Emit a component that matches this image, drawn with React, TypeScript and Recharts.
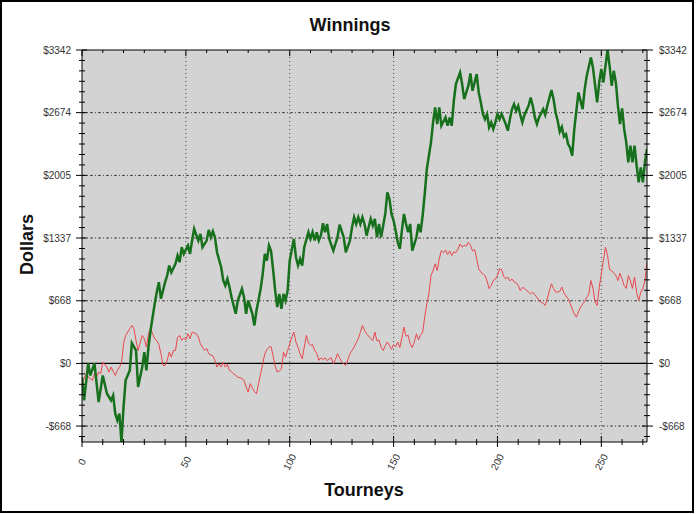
import React from 'react';
import { LineChart, Line, XAxis, YAxis, ReferenceLine, ReferenceArea } from 'recharts';

const greenTourneys = [0,1,3,4,6,8,10,12,14,15,16,17,18,19,20,21,23,24,26,27,29,30,31,32,33,35,36,37,38,40,41,42,43,45,46,47,48,49,51,52,53,54,56,57,58,60,61,62,63,64,65,67,68,69,70,71,72,74,75,77,78,79,80,82,83,84,85,86,87,88,89,90,91,92,93,94,95,96,97,98,99,100,102,103,104,105,106,107,109,110,111,112,113,114,115,116,117,118,119,121,123,124,126,127,129,130,131,132,133,134,135,136,137,139,140,141,142,143,144,145,146,147,148,149,150,151,152,153,154,155,156,157,158,159,161,162,163,164,165,166,168,169,170,171,172,173,175,176,177,178,179,180,182,183,184,186,187,188,189,190,191,192,193,194,195,196,197,198,199,200,201,202,204,205,206,207,208,209,210,211,212,213,215,216,217,218,219,220,222,223,224,226,227,228,229,230,231,232,233,234,235,236,237,239,240,241,242,243,245,246,248,249,250,251,253,254,255,256,257,258,259,260,261,262,263,264,265,266,267,268,269,270,271,272];
const greenDollars = [-146,-394,0,-128,0,-412,-128,-320,-394,-341,-533,-607,-536,-838,-465,-181,-75,216,138,-252,-39,120,-75,174,351,636,760,866,689,866,937,1044,972,1062,1150,1079,1239,1168,1257,1168,1310,1434,1310,1381,1239,1310,1424,1345,1409,1345,1185,1026,884,831,902,813,706,529,671,796,706,529,671,529,405,564,680,796,955,1168,1097,1257,1200,1000,777,600,742,582,742,671,777,1097,1328,1132,1044,1115,1044,1239,1399,1328,1399,1310,1399,1310,1363,1494,1399,1487,1328,1203,1345,1480,1345,1185,1310,1452,1558,1487,1558,1487,1558,1487,1363,1541,1470,1541,1345,1487,1345,1470,1594,1825,1754,1594,1523,1416,1292,1221,1416,1594,1487,1398,1487,1203,1345,1487,1398,1576,1807,2073,2357,2570,2730,2552,2730,2534,2623,2534,2623,2534,2801,2979,3102,2979,2819,2961,3092,2907,2996,3085,2889,2783,2659,2605,2659,2516,2570,2499,2570,2659,2605,2659,2552,2481,2605,2712,2765,2694,2747,2650,2570,2650,2748,2836,2748,2623,2552,2623,2712,2650,2748,2915,2819,2676,2587,2470,2520,2420,2445,2339,2300,2215,2499,2889,2800,2712,2925,3067,3262,3150,2783,3000,3140,2996,3342,3173,2961,3120,2996,2748,2552,2720,2500,2357,2144,2321,2144,2321,2108,1931,2091,1931,2144,2286];

const redTourneys = [0,1,2,3,5,6,7,8,9,10,12,13,14,16,17,18,19,20,21,23,24,25,26,27,29,30,31,32,33,35,36,37,38,39,40,41,42,43,44,45,46,47,48,49,50,51,52,53,55,56,57,58,59,60,61,63,64,65,66,67,68,69,70,71,72,73,75,77,78,79,80,81,82,83,84,85,86,87,88,89,90,91,92,93,94,95,96,97,98,99,101,102,103,104,105,106,107,108,109,110,111,112,113,114,115,116,117,118,119,120,121,122,123,124,125,126,127,128,129,130,131,132,133,134,135,136,137,138,139,140,141,142,143,144,145,146,147,148,149,150,151,152,153,154,155,156,157,158,159,160,161,162,163,164,165,166,167,168,169,170,171,172,173,174,175,176,177,178,179,180,181,182,183,184,185,186,187,188,189,190,191,192,193,194,195,196,197,198,199,200,201,202,203,204,205,206,207,208,209,210,211,212,213,214,215,216,217,218,219,220,221,222,223,224,225,226,227,228,229,230,231,232,233,234,235,236,237,238,239,240,241,242,243,244,245,246,247,248,249,250,251,252,253,254,255,256,257,258,259,260,261,262,263,264,265,266,267,268,269,270,271,272];
const redDollars = [-216,-163,-110,-146,-181,-110,-146,-92,-110,14,-39,-92,-39,-128,-75,-40,0,210,297,369,405,369,245,138,298,263,174,316,369,263,245,200,103,-21,-21,32,120,67,138,138,280,298,245,270,250,316,263,334,316,280,210,174,138,160,103,80,32,-39,-4,-39,14,-39,-10,-75,-90,-110,-146,-160,-181,-252,-305,-216,-260,-300,-323,-216,-110,-4,103,146,174,181,80,-30,-92,-80,-60,120,67,138,280,334,227,170,103,49,174,298,220,192,200,138,110,32,60,40,60,30,49,60,-4,40,103,60,14,-4,-21,40,103,140,174,220,263,330,405,352,316,290,263,245,334,240,250,174,138,190,227,192,150,200,180,227,170,270,387,290,300,210,167,230,316,250,300,334,494,636,742,937,990,1062,990,1115,1203,1180,1210,1160,1200,1150,1190,1180,1220,1274,1240,1260,1250,1292,1260,1200,1215,1115,1009,972,955,937,880,796,830,884,900,937,1009,1000,930,902,920,880,900,870,860,831,777,810,800,780,760,742,760,730,706,671,653,640,618,690,777,849,800,760,760,770,813,750,720,690,640,580,529,494,550,600,630,660,706,740,884,800,653,618,813,950,1100,1239,1150,1000,990,960,940,884,960,900,831,800,937,880,800,920,760,671,760,800,880,1079];

const yTickValues = [-668, 0, 668, 1337, 2005, 2674, 3342];
const xTickValues = [0, 50, 100, 150, 200, 250];
const xMinorTickValues = [0, 10, 20, 30, 40, 50, 60, 70, 80, 90, 100, 110, 120, 130, 140, 150, 160, 170, 180, 190, 200, 210, 220, 230, 240, 250, 260, 270];
const Y_MIN = -838;
const Y_MAX = 3342;
const X_MAX = 272;

const greenData = greenTourneys.map((t, i) => ({ t, v: greenDollars[i] }));
const redData = redTourneys.map((t, i) => ({ t, v: redDollars[i] }));

// all y tick marks: six subdivisions between each pair of labelled ticks (labelled ones included)
const yAllTicks: number[] = [];
{
  const step = (yTickValues[1] - yTickValues[0]) / 6;
  for (let v = yTickValues[0] - step; v >= Y_MIN; v -= step) yAllTicks.unshift(v);
  for (let i = 0; i < yTickValues.length - 1; i++) {
    const a = yTickValues[i];
    const b = yTickValues[i + 1];
    for (let k = 0; k < 6; k++) yAllTicks.push(a + ((b - a) * k) / 6);
  }
  yAllTicks.push(yTickValues[yTickValues.length - 1]);
}

const FONT = '"Liberation Sans", Arial, sans-serif';
const fmt = (v: number) => (v < 0 ? `-$${Math.abs(v)}` : `$${v}`);
const isMajorY = (v: number) => yTickValues.includes(v);
const isMajorX = (v: number) => xTickValues.includes(v);

const LeftTick = (p: any) => {
  const v = p.payload.value;
  if (!isMajorY(v)) return <line x1={p.x - 3} x2={p.x + 3} y1={p.y} y2={p.y} stroke="#000" strokeWidth={1} />;
  return (
    <g>
      <line x1={p.x - 6} x2={p.x + 5} y1={p.y} y2={p.y} stroke="#000" strokeWidth={1} />
      <text x={p.x - 11} y={p.y} textAnchor="end" dominantBaseline="central" fontSize={10} fontFamily={FONT} fill="#333">
        {fmt(v)}
      </text>
    </g>
  );
};
const RightTick = (p: any) => {
  const v = p.payload.value;
  if (!isMajorY(v)) return <line x1={p.x - 3} x2={p.x + 3} y1={p.y} y2={p.y} stroke="#000" strokeWidth={1} />;
  return (
    <g>
      <line x1={p.x - 5} x2={p.x + 6} y1={p.y} y2={p.y} stroke="#000" strokeWidth={1} />
      <text x={p.x + 12} y={p.y} textAnchor="start" dominantBaseline="central" fontSize={10} fontFamily={FONT} fill="#333">
        {fmt(v)}
      </text>
    </g>
  );
};
const BottomTick = (p: any) => {
  const v = p.payload.value;
  if (!isMajorX(v)) return <line x1={p.x} x2={p.x} y1={p.y - 3} y2={p.y + 3} stroke="#000" strokeWidth={1} />;
  return (
    <g>
      <line x1={p.x} x2={p.x} y1={p.y - 6} y2={p.y + 5} stroke="#000" strokeWidth={1} />
      <text
        x={p.x}
        y={p.y + 20}
        textAnchor="middle"
        dominantBaseline="central"
        fontSize={10}
        fontFamily={FONT}
        fill="#333"
        transform={`rotate(-62, ${p.x}, ${p.y + 20})`}
      >
        {v}
      </text>
    </g>
  );
};
const TopTick = (p: any) => {
  const major = isMajorX(p.payload.value);
  return <line x1={p.x} x2={p.x} y1={p.y} y2={p.y + (major ? 6 : 3)} stroke="#000" strokeWidth={1} />;
};

export default function App() {
  return (
    <div style={{ position: 'absolute', left: 0, top: 0, width: 700, height: 514, background: '#fff', fontFamily: FONT }}>
      <div
        style={{
          position: 'absolute',
          left: 0,
          top: 0,
          width: 694,
          height: 513,
          border: '2px solid #000',
          boxSizing: 'border-box',
        }}
      />
      <LineChart
        width={700}
        height={514}
        margin={{ top: 49, right: 52, bottom: 71, left: 81 }}
        style={{ position: 'absolute', left: 0, top: 0 }}
      >
        <ReferenceArea
          xAxisId="main"
          yAxisId="main"
          x1={0}
          x2={X_MAX}
          y1={Y_MIN}
          y2={Y_MAX}
          fill="#d3d3d3"
          fillOpacity={1}
          stroke="none"
          ifOverflow="hidden"
        />
        {yTickValues
          .filter((v) => v !== 0 && v !== Y_MAX)
          .map((v) => (
            <ReferenceLine key={'h' + v} xAxisId="main" yAxisId="main" y={v} stroke="#444" strokeDasharray="3 2 1 2" strokeWidth={1} />
          ))}
        {xTickValues
          .filter((v) => v !== 0)
          .map((v) => (
            <ReferenceLine key={'v' + v} xAxisId="main" yAxisId="main" x={v} stroke="#444" strokeDasharray="1 3" strokeWidth={1} />
          ))}
        <ReferenceLine xAxisId="main" yAxisId="main" y={0} stroke="#000" strokeWidth={1.2} />
        <XAxis
          xAxisId="main"
          dataKey="t"
          type="number"
          domain={[0, X_MAX]}
          allowDataOverflow
          ticks={xMinorTickValues}
          interval={0}
          height={1}
          tickSize={0}
          tickMargin={0}
          tickLine={false}
          axisLine={{ stroke: '#000' }}
          tick={BottomTick}
        />
        <XAxis
          xAxisId="top"
          orientation="top"
          dataKey="t"
          type="number"
          domain={[0, X_MAX]}
          allowDataOverflow
          ticks={xMinorTickValues}
          interval={0}
          height={1}
          tickSize={0}
          tickMargin={0}
          tickLine={false}
          axisLine={{ stroke: '#000' }}
          tick={TopTick}
        />
        <YAxis
          yAxisId="main"
          type="number"
          domain={[Y_MIN, Y_MAX]}
          allowDataOverflow
          ticks={yAllTicks}
          interval={0}
          width={1}
          tickSize={0}
          tickMargin={0}
          tickLine={false}
          axisLine={{ stroke: '#000' }}
          tick={LeftTick}
        />
        <YAxis
          yAxisId="right"
          orientation="right"
          type="number"
          domain={[Y_MIN, Y_MAX]}
          allowDataOverflow
          ticks={yAllTicks}
          interval={0}
          width={1}
          tickSize={0}
          tickMargin={0}
          tickLine={false}
          axisLine={{ stroke: '#000' }}
          tick={RightTick}
        />
        <Line
          xAxisId="main"
          yAxisId="main"
          data={redData}
          dataKey="v"
          type="linear"
          stroke="#e8474c"
          strokeWidth={1}
          dot={false}
          isAnimationActive={false}
        />
        <Line
          xAxisId="main"
          yAxisId="main"
          data={greenData}
          dataKey="v"
          type="linear"
          stroke="#17701c"
          strokeWidth={2.5}
          dot={false}
          isAnimationActive={false}
        />
      </LineChart>
      <div
        style={{
          position: 'absolute',
          left: 0,
          width: 700,
          top: 15,
          textAlign: 'center',
          fontWeight: 'bold',
          fontSize: 18,
          color: '#111',
        }}
      >
        Winnings
      </div>
      <div
        style={{
          position: 'absolute',
          left: 364 - 100,
          width: 200,
          top: 480,
          textAlign: 'center',
          fontWeight: 'bold',
          fontSize: 18,
          color: '#111',
        }}
      >
        Tourneys
      </div>
      <div
        style={{
          position: 'absolute',
          left: 27 - 100,
          width: 200,
          top: 245 - 11,
          textAlign: 'center',
          fontWeight: 'bold',
          fontSize: 18,
          color: '#111',
          transform: 'rotate(-90deg)',
        }}
      >
        Dollars
      </div>
    </div>
  );
}
